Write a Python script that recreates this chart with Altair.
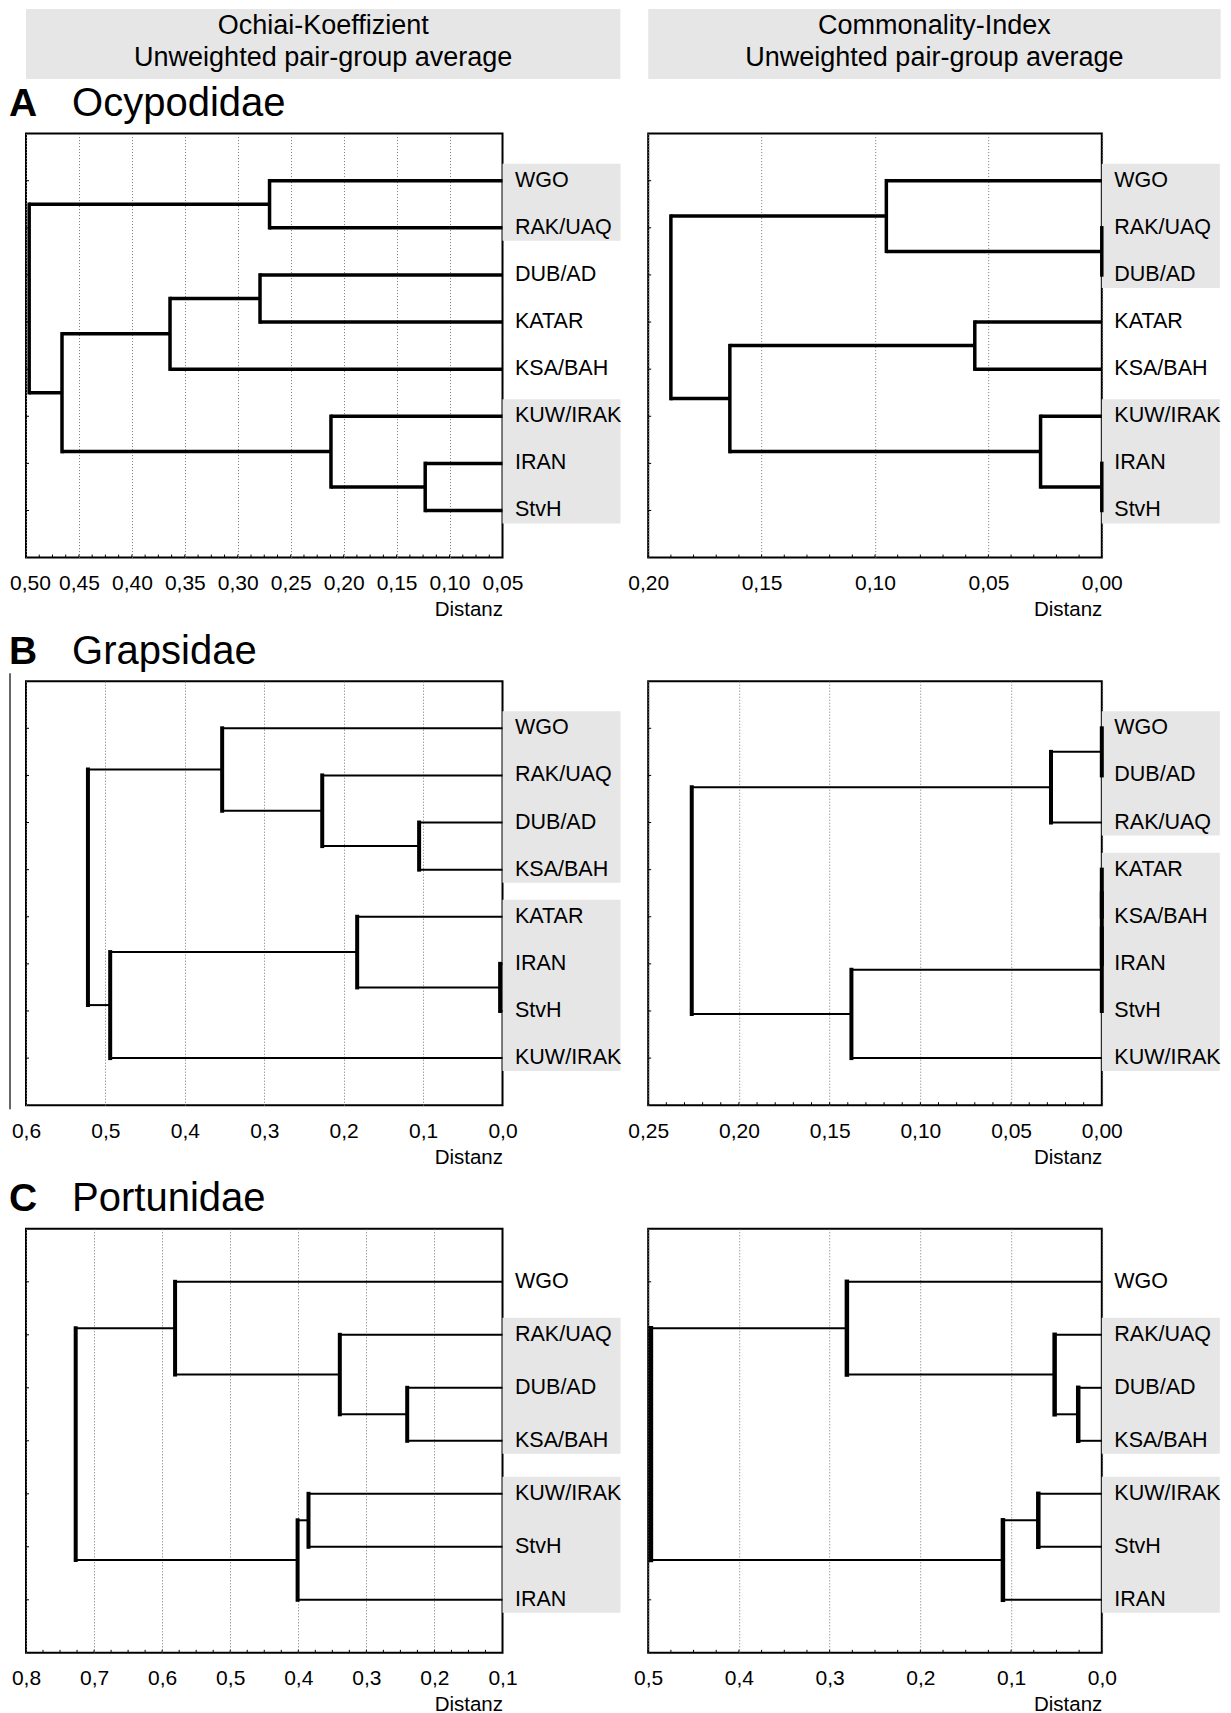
import altair as alt
import pandas as pd

FONT = "Liberation Sans"

HEADER_LEFT = ["Ochiai-Koeffizient", "Unweighted pair-group average"]
HEADER_RIGHT = ["Commonality-Index", "Unweighted pair-group average"]
AXIS_TITLE = "Distanz"

# ---------------- A  Ocypodidae ----------------
A_L_LEAVES = ["WGO", "RAK/UAQ", "DUB/AD", "KATAR", "KSA/BAH", "KUW/IRAK", "IRAN", "StvH"]
A_L_MERGES = [("IRAN", "StvH", 0.123), ("KUW/IRAK", 0, 0.212), ("WGO", "RAK/UAQ", 0.270),
              ("DUB/AD", "KATAR", 0.279), (3, "KSA/BAH", 0.364), (4, 1, 0.466), (2, 5, 0.497)]
A_L_SHADE = [(1, 2), (6, 8)]
A_L_TICKS = [0.05, 0.10, 0.15, 0.20, 0.25, 0.30, 0.35, 0.40, 0.45, 0.50]

A_R_LEAVES = ["WGO", "RAK/UAQ", "DUB/AD", "KATAR", "KSA/BAH", "KUW/IRAK", "IRAN", "StvH"]
A_R_MERGES = [("RAK/UAQ", "DUB/AD", 0.0), ("IRAN", "StvH", 0.0), ("KUW/IRAK", 1, 0.027),
              ("KATAR", "KSA/BAH", 0.056), ("WGO", 0, 0.095), (3, 2, 0.164), (4, 5, 0.190)]
A_R_SHADE = [(1, 3), (6, 8)]
A_R_TICKS = [0.00, 0.05, 0.10, 0.15, 0.20]

# ---------------- B  Grapsidae ----------------
B_L_LEAVES = ["WGO", "RAK/UAQ", "DUB/AD", "KSA/BAH", "KATAR", "IRAN", "StvH", "KUW/IRAK"]
B_L_MERGES = [("IRAN", "StvH", 0.003), ("DUB/AD", "KSA/BAH", 0.105), ("KATAR", 0, 0.183),
              ("RAK/UAQ", 1, 0.227), ("WGO", 3, 0.353), (2, "KUW/IRAK", 0.494), (4, 5, 0.522)]
B_L_SHADE = [(1, 4), (5, 8)]
B_L_TICKS = [0.0, 0.1, 0.2, 0.3, 0.4, 0.5, 0.6]

B_R_LEAVES = ["WGO", "DUB/AD", "RAK/UAQ", "KATAR", "KSA/BAH", "IRAN", "StvH", "KUW/IRAK"]
B_R_MERGES = [("WGO", "DUB/AD", 0.0), (0, "RAK/UAQ", 0.028), ("KATAR", "KSA/BAH", 0.0),
              (2, "IRAN", 0.0), (3, "StvH", 0.0), (4, "KUW/IRAK", 0.138), (1, 5, 0.226)]
B_R_SHADE = [(1, 3), (4, 8)]
B_R_TICKS = [0.00, 0.05, 0.10, 0.15, 0.20, 0.25]

# ---------------- C  Portunidae ----------------
C_L_LEAVES = ["WGO", "RAK/UAQ", "DUB/AD", "KSA/BAH", "KUW/IRAK", "StvH", "IRAN"]
C_L_MERGES = [("DUB/AD", "KSA/BAH", 0.240), ("RAK/UAQ", 0, 0.339), ("WGO", 1, 0.581),
              ("KUW/IRAK", "StvH", 0.385), (3, "IRAN", 0.401), (2, 4, 0.727)]
C_L_SHADE = [(2, 4), (5, 7)]
C_L_TICKS = [0.1, 0.2, 0.3, 0.4, 0.5, 0.6, 0.7, 0.8]

C_R_LEAVES = ["WGO", "RAK/UAQ", "DUB/AD", "KSA/BAH", "KUW/IRAK", "StvH", "IRAN"]
C_R_MERGES = [("DUB/AD", "KSA/BAH", 0.026), ("RAK/UAQ", 0, 0.052), ("WGO", 1, 0.281),
              ("KUW/IRAK", "StvH", 0.070), (3, "IRAN", 0.109), (2, 4, 0.497)]
C_R_SHADE = [(2, 4), (5, 7)]
C_R_TICKS = [0.0, 0.1, 0.2, 0.3, 0.4, 0.5]

ROW_TITLES = [("A", "Ocypodidae"), ("B", "Grapsidae"), ("C", "Portunidae")]

# ---------------- layout constants ----------------
W_L, W_R = 476.5, 453.6
H = 424
HDR_W_L, HDR_W_R, HDR_H = 594.4, 572.4, 70
SHADE_W = 118
GREY = "#e6e6e6"


def layout_tree(leaves, merges):
    row = {name: i + 1 for i, name in enumerate(leaves)}
    nodes = []
    vert, horiz = [], []

    def node(c):
        if isinstance(c, str):
            return row[c], 0.0
        return nodes[c]

    for a, b, h in merges:
        ya, ha = node(a)
        yb, hb = node(b)
        vert.append({"x": h, "y": ya, "y2": yb})
        horiz.append({"x": ha, "x2": h, "y": ya})
        horiz.append({"x": hb, "x2": h, "y": yb})
        nodes.append(((ya + yb) / 2.0, h))
    return pd.DataFrame(vert), pd.DataFrame(horiz)


def minor_ticks(lo, hi, step):
    if not step:
        return []
    n = int(round((hi - lo) / step))
    return [round(lo + i * step, 5) for i in range(n + 1)]


def panel(leaves, merges, shade, ticks, fmt, width, lw_h, lw_v, minor_step,
          title=None, artifact=False, first_shift=0):
    n = len(leaves)
    step = H / (n + 1)
    lo, hi = min(ticks), max(ticks)
    xs = alt.Scale(domain=[lo, hi], reverse=True, clamp=True, nice=False, zero=False)
    ys = alt.Scale(domain=[0, n + 1], reverse=True, nice=False, zero=False)
    vdf, hdf = layout_tree(leaves, merges)

    axis_kw = dict(
        values=ticks,
        labelExpr=f"replace(format(datum.value, '{fmt}'), '.', ',')",
        grid=True, gridColor="#777777", gridDash=[1, 2], gridWidth=1,
        ticks=False, tickSize=0, domain=False,
        labelFont=FONT, labelFontSize=21, labelColor="black", labelPadding=15,
        labelFlush=False, labelOverlap=False,
        title=AXIS_TITLE, titleFont=FONT, titleFontSize=20.5, titleFontWeight="normal",
        titleColor="black", titleX=width, titleY=58, titleAlign="right",
        titleBaseline="alphabetic",
    )
    if first_shift:
        axis_kw["labelOffset"] = {"condition": {"test": f"datum.value >= {hi - 1e-6}",
                                                "value": first_shift}, "value": 0}
    axis = alt.Axis(**axis_kw)

    layers = []

    # grey label boxes
    sdf = pd.DataFrame({"first": [s[0] for s in shade], "last": [s[1] for s in shade]})
    sdf["y"] = sdf["first"] - 17.0 / step
    sdf["y2"] = sdf["last"] + 13.0 / step
    layers.append(
        alt.Chart(sdf).mark_rect(color=GREY).encode(
            x=alt.value(width), x2=alt.value(width + SHADE_W),
            y=alt.Y("y:Q", scale=ys, axis=None), y2="y2:Q")
    )

    # vertical dendrogram links
    layers.append(
        alt.Chart(vdf).mark_rule(color="black", strokeWidth=lw_v, strokeCap="square").encode(
            x=alt.X("x:Q", scale=xs, axis=axis),
            y=alt.Y("y:Q", scale=ys, axis=None), y2="y2:Q")
    )
    # horizontal links
    layers.append(
        alt.Chart(hdf).mark_rule(color="black", strokeWidth=lw_h, strokeCap="butt").encode(
            x=alt.X("x:Q", scale=xs, axis=axis), x2="x2:Q",
            y=alt.Y("y:Q", scale=ys, axis=None))
    )

    # minor ticks inside bottom frame
    mt = minor_ticks(lo, hi, minor_step)
    if mt:
        layers.append(
            alt.Chart(pd.DataFrame({"x": mt})).mark_rule(color="black", strokeWidth=1).encode(
                x=alt.X("x:Q", scale=xs, axis=axis),
                y=alt.value(H - 3), y2=alt.value(H))
        )

    # row ticks on the left frame
    ldf = pd.DataFrame({"label": leaves, "y": list(range(1, n + 1))})
    layers.append(
        alt.Chart(ldf).mark_rule(color="black", strokeWidth=1).encode(
            x=alt.value(0), x2=alt.value(3),
            y=alt.Y("y:Q", scale=ys, axis=None))
    )

    # leaf labels
    layers.append(
        alt.Chart(ldf).mark_text(align="left", baseline="middle", font=FONT,
                                 fontSize=21.5, color="black").encode(
            x=alt.value(width + 12.5),
            y=alt.Y("y:Q", scale=ys, axis=None),
            text="label:N")
    )

    if title:
        letter, family = title
        tdf = pd.DataFrame({"letter": [letter], "family": [family]})
        layers.append(
            alt.Chart(tdf).mark_text(align="left", baseline="alphabetic", font=FONT,
                                     fontSize=39, fontWeight="bold", color="black").encode(
                x=alt.value(-16.9), y=alt.value(-17.5), text="letter:N")
        )
        layers.append(
            alt.Chart(tdf).mark_text(align="left", baseline="alphabetic", font=FONT,
                                     fontSize=40, color="black").encode(
                x=alt.value(46.1), y=alt.value(-17.5), text="family:N")
        )

    if artifact:
        layers.append(
            alt.Chart(pd.DataFrame({"k": [0]})).mark_rule(color="black", strokeWidth=1.2).encode(
                x=alt.value(-16), y=alt.value(-8), y2=alt.value(H + 4))
        )

    return alt.layer(*layers).properties(width=width, height=H)


def header(lines, width):
    d = pd.DataFrame({"k": [0]})
    bg = alt.Chart(d).mark_rect(color=GREY).encode(
        x=alt.value(0), x2=alt.value(width), y=alt.value(0), y2=alt.value(HDR_H))
    t1 = alt.Chart(d).mark_text(align="center", baseline="middle", font=FONT,
                                fontSize=27, color="black").encode(
        x=alt.value(width / 2), y=alt.value(17), text=alt.value(lines[0]))
    t2 = alt.Chart(d).mark_text(align="center", baseline="middle", font=FONT,
                                fontSize=27, color="black").encode(
        x=alt.value(width / 2), y=alt.value(49), text=alt.value(lines[1]))
    return alt.layer(bg, t1, t2).properties(
        width=width, height=1, view=alt.ViewBackground(stroke="transparent"))


charts = [
    header(HEADER_LEFT, HDR_W_L),
    header(HEADER_RIGHT, HDR_W_R),
    panel(A_L_LEAVES, A_L_MERGES, A_L_SHADE, A_L_TICKS, ".2f", W_L, 3.5, 3.5, 0.0125,
          title=ROW_TITLES[0], first_shift=4),
    panel(A_R_LEAVES, A_R_MERGES, A_R_SHADE, A_R_TICKS, ".2f", W_R, 3.5, 3.5, 0.01),
    panel(B_L_LEAVES, B_L_MERGES, B_L_SHADE, B_L_TICKS, ".1f", W_L, 2, 4, 0,
          title=ROW_TITLES[1], artifact=True),
    panel(B_R_LEAVES, B_R_MERGES, B_R_SHADE, B_R_TICKS, ".2f", W_R, 2, 4, 0.01),
    panel(C_L_LEAVES, C_L_MERGES, C_L_SHADE, C_L_TICKS, ".1f", W_L, 2, 4, 0.025,
          title=ROW_TITLES[2]),
    panel(C_R_LEAVES, C_R_MERGES, C_R_SHADE, C_R_TICKS, ".1f", W_R, 2, 4.5, 0.025),
]

chart = alt.concat(
    *charts, columns=2, spacing={"row": 123.6, "column": 27.2}, bounds="flush"
).properties(padding=0).configure_view(stroke="black", strokeWidth=2)

chart.save("out.html", embed_options={"renderer": "svg", "actions": False})
